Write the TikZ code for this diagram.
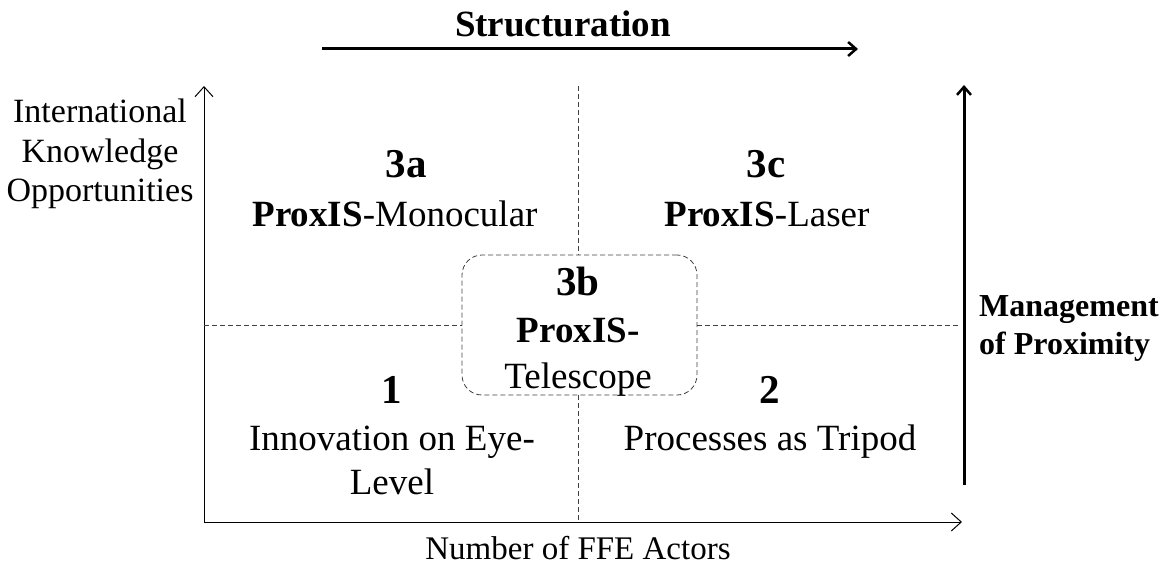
\documentclass[tikz,border=0pt]{standalone}
\usepackage{fontspec}
\setmainfont{Liberation Serif}
\usetikzlibrary{arrows.meta}
\newcommand{\axfont}{\fontsize{34}{40}\selectfont}
\newcommand{\qfont}{\fontsize{37}{43}\selectfont}
\newcommand{\numfont}{\fontsize{41}{48}\selectfont\bfseries}
\begin{document}
\begin{tikzpicture}[x=1pt,y=-1pt,
  axisline/.style={line width=1pt,-{Straight Barb[length=10pt,width=18pt,line width=1pt]}},
  thickarrow/.style={line width=3pt,-{Straight Barb[length=8pt,width=14pt,line width=2.5pt]}},
  divline/.style={line width=0.8pt,dash pattern=on 5pt off 3pt,gray!50!black},
  txt/.style={inner sep=0pt,anchor=base},
]
\useasboundingbox (0,0) rectangle (1170,567);
% axes
\coordinate (O) at (204,522);
\coordinate (Ytop) at (204,86);
\coordinate (Xend) at (962,522);
\draw[axisline] (O) -- (Ytop);
\draw[axisline] (O) -- (Xend);
% central box
\node[draw,divline,rounded corners=20pt,minimum width=235pt,minimum height=140pt,inner sep=0pt] (box) at (579.5,325) {};
% dividers
\coordinate (vt) at (578,86);
\coordinate (vb) at (578,522);
\coordinate (hl) at (204,325);
\coordinate (hr) at (958,325);
\draw[divline] (vt) -- (box.north -| vt);
\draw[divline] (box.south -| vb) -- (vb);
\draw[divline] (hl) -- (box.west);
\draw[divline] (box.east) -- (hr);
% top arrow
\coordinate (sa) at (322,49);
\coordinate (sb) at (858,49);
\draw[thickarrow] (sa) -- (sb);
\node[txt] (struct) at (563,37) {\fontsize{37}{44}\selectfont\bfseries Structuration};
% right arrow
\coordinate (ra) at (964,485);
\coordinate (rb) at (964,85);
\draw[thickarrow] (ra) -- (rb);
\node[txt,anchor=base west] (mgmt1) at (979,316) {\fontsize{32}{38}\selectfont\bfseries Management};
\node[txt,anchor=base west] (mgmt2) at (979,354) {\fontsize{32}{38}\selectfont\bfseries of Proximity};
% y-axis label
\node[txt] (yl1) at (100,123) {\axfont International};
\node[txt] (yl2) at (100,162) {\axfont Knowledge};
\node[txt] (yl3) at (100,201) {\axfont Opportunities};
% x-axis label
\node[txt] (xl) at (578,559) {\fontsize{33}{40}\selectfont Number of FFE Actors};
% quadrant 3a
\node[txt] (n3a) at (406,178) {\numfont 3a};
\node[txt] (t3a) at (395,226) {\qfont\textbf{ProxIS}-Monocular};
% quadrant 3c
\node[txt] (n3c) at (766,178) {\numfont 3c};
\node[txt] (t3c) at (767,226) {\qfont\textbf{ProxIS}-Laser};
% 3b
\node[txt] (n3b) at (578,295) {\numfont 3b};
\node[txt] (t3b1) at (578,342) {\qfont\bfseries ProxIS-};
\node[txt] (t3b2) at (578,388) {\qfont Telescope};
% quadrant 1
\node[txt] (n1) at (392,403) {\numfont 1};
\node[txt] (t1a) at (392,450) {\qfont Innovation on Eye-};
\node[txt] (t1b) at (392,494) {\qfont Level};
% quadrant 2
\node[txt] (n2) at (770,403) {\numfont 2};
\node[txt] (t2) at (770,450) {\qfont Processes as Tripod};
\end{tikzpicture}
\end{document}
